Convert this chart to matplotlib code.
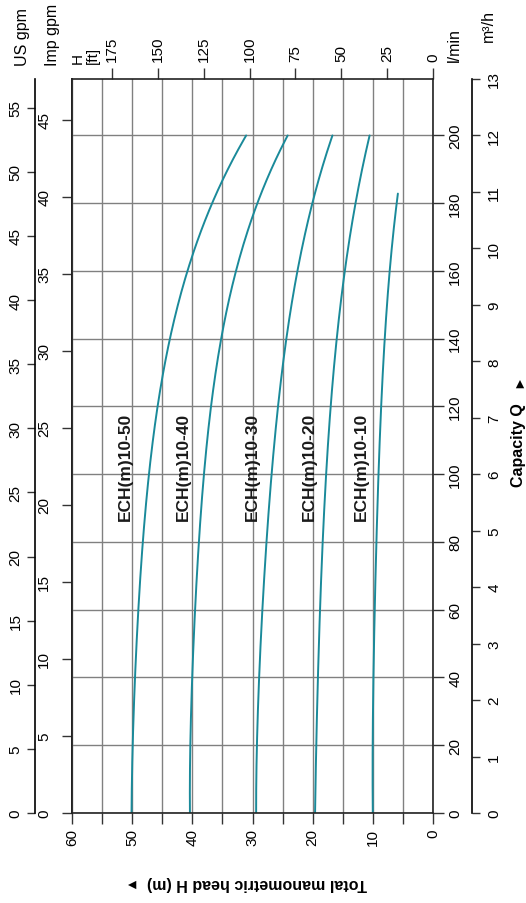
import matplotlib
matplotlib.use("Agg")
import matplotlib.pyplot as plt
import numpy as np

plt.rcParams['font.family'] = ['Liberation Sans', 'DejaVu Sans']

# ---------------- data ----------------
models = ["ECH(m)10-50", "ECH(m)10-40", "ECH(m)10-30", "ECH(m)10-20", "ECH(m)10-10"]

q_1050 = [0, 1.7, 2.4, 3.75, 4.5, 5.0, 6.5, 7.6, 8.2, 8.6, 9.37, 9.84, 10.8, 11.27, 12.0]
h_1050 = [50.1, 49.8, 49.5, 48.85, 48.45, 48.2, 46.5, 45.2, 44.1, 43.5, 41.5, 39.9, 36.6, 34.9, 31.0]

q_1040 = [0, 2.3, 3.6, 4.5, 5.0, 6.2, 6.9, 7.65, 8.4, 8.87, 9.37, 9.65, 10.8, 12.0]
h_1040 = [40.4, 40.05, 39.55, 39.1, 38.8, 37.8, 37.3, 36.4, 35.1, 34.4, 33.3, 32.6, 29.2, 24.15]

q_1030 = [0, 2.2, 3.6, 4.5, 5.0, 6.4, 6.9, 7.63, 8.34, 8.87, 9.37, 9.65, 10.8, 12.0]
h_1030 = [29.4, 28.95, 28.4, 27.85, 27.55, 26.45, 26.05, 25.35, 24.5, 23.7, 22.9, 22.4, 20.1, 16.7]

q_1020 = [0, 2.2, 3.6, 4.5, 5.3, 6.5, 6.9, 7.6, 8.4, 9.05, 9.37, 9.65, 10.8, 12.0]
h_1020 = [19.6, 19.2, 18.75, 18.4, 18.2, 17.4, 17.25, 16.8, 16.0, 15.3, 14.8, 14.6, 13.0, 10.5]

q_1010 = [0, 2.4, 3.3, 4.5, 5.0, 6.5, 7.57, 8.46, 9.37, 9.96, 10.97]
h_1010 = [10.0, 9.96, 9.7, 9.4, 9.4, 8.95, 8.47, 7.92, 7.37, 6.93, 5.83]

label_head = [51.2, 41.5, 30.1, 20.6, 11.85]
label_q = 6.14

head_m_ticks = list(range(0, 61, 10))
head_m_minor = list(range(0, 61, 5))
head_ft_ticks = list(range(0, 176, 25))
lmin_ticks = list(range(0, 201, 20))
m3h_ticks = list(range(0, 14))
usgpm_ticks = list(range(0, 56, 5))
impgpm_ticks = list(range(0, 46, 5))

# ---------------- figure ----------------
W, H = 526, 904
fig = plt.figure(figsize=(W / 100, H / 100), dpi=100)
L, R, T, B = 72, 433, 80, 814
ax = fig.add_axes([L / W, 1 - B / H, (R - L) / W, (B - T) / H])

ax.set_xlim(60, 0)
ax.set_ylim(0, 13)

grid_col = '#808080'
curve_col = '#1a8a9a'

ax.set_xticks(head_m_ticks)
ax.set_xticks(head_m_minor, minor=True)
ax.set_xticklabels([str(v) for v in head_m_ticks])
ax.grid(True, which='both', axis='x', color=grid_col, lw=1.0)
ax.yaxis.tick_right()
ax.set_yticks([v * 0.06 for v in lmin_ticks])
ax.set_yticklabels([str(v) for v in lmin_ticks])
ax.grid(True, which='major', axis='y', color=grid_col, lw=1.0)
ax.set_axisbelow(True)

tl = 8
ax.tick_params(axis='x', which='both', direction='out', length=tl, width=1.0,
               labelsize=11, labelrotation=90, pad=3, color='#333333')
ax.tick_params(axis='y', which='both', direction='out', length=tl, width=1.0,
               labelsize=11, labelrotation=90, pad=3, color='#333333')
for lb in ax.get_yticklabels():
    lb.set_va('center')
    lb.set_ha('left')
for s in ax.spines.values():
    s.set_linewidth(1.2)
    s.set_color('#222222')

# curves (smoothed through the read points)
for q, h in [(q_1050, h_1050), (q_1040, h_1040), (q_1030, h_1030), (q_1020, h_1020), (q_1010, h_1010)]:
    q = np.asarray(q, float)
    h = np.asarray(h, float)
    coef = np.polyfit(q, h, 4)
    qq = np.linspace(q.min(), q.max(), 200)
    ax.plot(np.polyval(coef, qq), qq, color=curve_col, lw=1.4, solid_capstyle='round')

for name, hx in zip(models, label_head):
    ax.text(hx, label_q, name, rotation=90, ha='center', va='center',
            fontsize=12.5, fontweight='bold', color='#1a1a1a')

# top: head in ft
secx = ax.secondary_xaxis('top', functions=(lambda m: m / 0.3048, lambda f: f * 0.3048))
secx.set_xticks(head_ft_ticks)
secx.tick_params(direction='out', length=tl, width=1.0, labelsize=11, labelrotation=90, pad=5,
                 color='#333333')
secx.spines['top'].set_visible(False)

# m3/h axis
m3 = ax.secondary_yaxis((472 - L) / (R - L))
m3.set_yticks(m3h_ticks)
m3.tick_params(direction='out', length=6, width=1.0, labelsize=11, labelrotation=90, pad=5,
               color='#333333')
for lb in m3.get_yticklabels():
    lb.set_va('center')
m3.spines['right'].set_linewidth(1.2)

# Imp gpm on left spine
imp = ax.secondary_yaxis('left', functions=(lambda q: q / 0.27277, lambda g: g * 0.27277))
imp.set_yticks(impgpm_ticks)
imp.tick_params(direction='out', length=7, width=1.0, labelsize=11, labelrotation=90, pad=8,
                color='#333333')
for lb in imp.get_yticklabels():
    lb.set_va('center')
imp.spines['left'].set_linewidth(1.2)

# US gpm
us = ax.secondary_yaxis(-(L - 35) / (R - L), functions=(lambda q: q / 0.22712, lambda g: g * 0.22712))
us.set_yticks(usgpm_ticks)
us.tick_params(direction='out', length=6, width=1.0, labelsize=11, labelrotation=90, pad=3,
               color='#333333')
for lb in us.get_yticklabels():
    lb.set_va('center')
us.spines['left'].set_linewidth(1.2)

# header texts
def ft(x, y, s, **kw):
    fig.text(x / W, 1 - y / H, s, rotation=90, **kw)

ft(22, 66, 'US gpm', ha='center', va='bottom', fontsize=11.5)
ft(53, 66, 'Imp gpm', ha='center', va='bottom', fontsize=11.5)
ft(78, 64, 'H', ha='center', va='bottom', fontsize=11)
ft(93, 64, '[ft]', ha='center', va='bottom', fontsize=11)
ft(454, 62, 'l/min', ha='center', va='bottom', fontsize=11.5)
ft(488, 42, 'm³/h', ha='center', va='bottom', fontsize=11.5)

# axis titles
ft(518, 445, 'Capacity Q', ha='center', va='center', fontsize=11.5, fontweight='bold')
ft(518, 381, '►', ha='center', va='center', fontsize=10)
fig.text(257 / W, 1 - 883 / H, 'Total manometric head H (m)', rotation=180, ha='center',
         va='center', fontsize=11.5, fontweight='bold')
fig.text(127 / W, 1 - 883 / H, '►', rotation=180, ha='center', va='center', fontsize=10)

fig.savefig('out.png', dpi=100)
